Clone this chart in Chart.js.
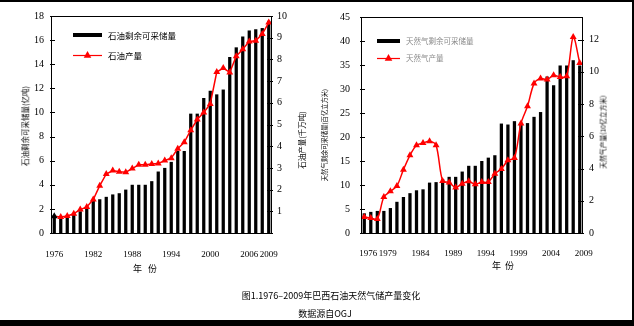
<!DOCTYPE html>
<html><head><meta charset="utf-8">
<script src="https://cdn.jsdelivr.net/npm/chart.js@4.4.0/dist/chart.umd.min.js"></script>
<style>
html,body{margin:0;padding:0;background:#000;}
#page{position:relative;width:634px;height:326px;background:#000;overflow:hidden;}
#inner{position:absolute;left:0;top:2px;width:632px;height:318px;background:#fff;}
canvas{position:absolute;}
.t{position:absolute;font-family:"Noto Sans CJK SC";color:#000;white-space:nowrap;line-height:1;}
.rot{transform:translate(-50%,-50%) rotate(-90deg);}
.c{transform:translate(-50%,-50%);}
</style></head>
<body><div id="page"><div id="inner"></div>
<canvas id="c1" width="316" height="262" style="left:0;top:0"></canvas>
<canvas id="c2" width="316" height="262" style="left:316px;top:0"></canvas>
<div class="t rot" style="left:25px;top:126px;font-size:7.5px;">石油剩余可采储量(亿吨)</div>
<div class="t rot" style="left:302px;top:140px;font-size:7.5px;">石油产量(千万吨)</div>
<div class="t rot" style="left:325px;top:135px;font-size:6.3px;">天然气剩余可采储量(百亿立方米)</div>
<div class="t rot" style="left:603px;top:132px;font-size:6.8px;">天然气产量(10亿立方米)</div>
<div class="t c" style="left:145px;top:268px;font-size:9px;">年&nbsp;&nbsp;&nbsp;份</div>
<div class="t c" style="left:503px;top:265px;font-size:9px;">年&nbsp;&nbsp;份</div>
<div class="t c" style="left:331px;top:295px;font-size:9px;">图1.1976–2009年巴西石油天然气储产量变化</div>
<div class="t c" style="left:325px;top:313px;font-size:9px;">数据源自OGJ</div>
</div>
<script>
const years = ['1976','1977','1978','1979','1980','1981','1982','1983','1984','1985','1986','1987','1988','1989','1990','1991','1992','1993','1994','1995','1996','1997','1998','1999','2000','2001','2002','2003','2004','2005','2006','2007','2008','2009'];
const oilReserves = [1.5,1.2,1.3,1.6,1.8,2.2,2.7,2.8,3.0,3.2,3.3,3.6,4.0,4.0,4.0,4.3,5.1,5.4,5.9,6.8,6.8,9.9,9.9,11.2,11.8,11.5,11.9,14.6,15.4,16.3,16.8,16.9,17.0,17.6];
const oilProduction = [0.77,0.74,0.78,0.89,1.08,1.2,1.54,2.18,2.72,2.88,2.82,2.8,2.97,3.15,3.15,3.18,3.2,3.34,3.45,3.88,4.18,4.74,5.23,5.55,5.95,7.42,7.6,7.4,8.15,8.47,8.83,8.86,9.17,9.7];
const gasReserves = [4.1,4.4,4.6,4.6,5.2,6.5,7.5,8.3,8.9,9.1,10.5,10.6,11.2,11.7,11.7,12.8,14.0,14.0,15.0,15.7,16.2,22.8,22.6,23.3,22.8,22.9,24.2,25.2,32.6,30.8,34.9,34.9,36.0,34.9];
const gasProduction = [0.99,0.93,0.87,2.23,2.59,2.92,3.93,4.82,5.44,5.58,5.69,5.44,3.23,3.13,2.82,3.06,3.21,3.02,3.16,3.16,3.68,3.97,4.51,4.65,6.8,7.86,9.27,9.58,9.52,9.78,9.68,9.72,12.16,10.55];
const oilTickYears = ['1976','1982','1988','1994','2000','2006','2009'];
const gasTickYears = ['1976','1979','1984','1989','1994','1999','2004','2009'];
const oilLegend = ['石油剩余可采储量','石油产量'];
const gasLegend = ['天然气剩余可采储量','天然气产量'];

const RED = '#ff0000';
const TICKFONT = {family:'Liberation Serif', size:9};
const YFONT = {family:'Liberation Serif', size:10};

const framePlugin = {
  id:'frame',
  afterDatasetsDraw(chart){
    const a = chart.chartArea, ctx = chart.ctx;
    ctx.save();
    ctx.strokeStyle = '#000'; ctx.lineWidth = 1;
    ctx.strokeRect(Math.round(a.left)+0.5, Math.round(a.top)+0.5, Math.round(a.right-a.left)-1, Math.round(a.bottom-a.top));
    const y = chart.scales.y, y1 = chart.scales.y1;
    ctx.beginPath();
    y.ticks.forEach(t => { const p = Math.round(y.getPixelForValue(t.value))+0.5; ctx.moveTo(a.left-1,p); ctx.lineTo(a.left+4,p); });
    y1.ticks.forEach(t => { const p = Math.round(y1.getPixelForValue(t.value))+0.5; ctx.moveTo(a.right-5,p); ctx.lineTo(a.right+1,p); });
    ctx.stroke();
    ctx.restore();
  }
};

const legendPlugin = {
  id:'customLegend',
  afterDraw(chart, args, o){
    const ctx = chart.ctx;
    ctx.save();
    ctx.font = o.fontSize + 'px "Noto Sans CJK SC"';
    ctx.textBaseline = 'middle';
    o.items.forEach((it, i) => {
      const y = o.y[i];
      if (i === 0) {
        ctx.fillStyle = '#000';
        ctx.fillRect(o.x, y-2, o.w, 4);
      } else {
        ctx.strokeStyle = RED; ctx.lineWidth = 1.2;
        ctx.beginPath(); ctx.moveTo(o.x, y+0.5); ctx.lineTo(o.x+o.w, y+0.5); ctx.stroke();
        const cx = o.x + o.w/2, r = 4;
        ctx.fillStyle = RED;
        ctx.beginPath();
        ctx.moveTo(cx, y - r*1.0);
        ctx.lineTo(cx + r*0.95, y + r*0.7);
        ctx.lineTo(cx - r*0.95, y + r*0.7);
        ctx.closePath(); ctx.fill();
      }
      ctx.fillStyle = o.color;
      ctx.fillText(it, o.x + o.w + 6, y+0.5);
    });
    ctx.restore();
  }
};

function makeChart(id, cfg){
  const tickYears = cfg.tickYears;
  return new Chart(document.getElementById(id), {
    type:'bar',
    data:{
      labels: years,
      datasets:[
        {type:'line', data: cfg.line, yAxisID:'y1', order:0,
         borderColor:RED, borderWidth:1.5, tension: cfg.tension,
         pointStyle:'triangle', pointRadius:4, pointBorderWidth:0,
         pointBackgroundColor: cfg.pointColors, pointBorderColor: cfg.pointColors},
        {type:'bar', data: cfg.bars, yAxisID:'y', order:1,
         backgroundColor:'#000', barPercentage:0.5, categoryPercentage:1}
      ]
    },
    options:{
      responsive:false, animation:false, events:[],
      layout:{padding:{top:cfg.top, left:0, right:0, bottom:0}},
      plugins:{legend:{display:false}, tooltip:{enabled:false},
        customLegend: cfg.legend},
      scales:{
        x:{grid:{display:false}, border:{display:false},
           ticks:{autoSkip:false, maxRotation:0, minRotation:0, padding:cfg.xPad, labelOffset:cfg.xOff, color:'#000', font:TICKFONT,
             callback:function(v){ const l = this.getLabelForValue(v); return tickYears.includes(l) ? l : ''; }},
           afterFit:s=>{ s.height = cfg.xh; }},
        y:{position:'left', min:0, max:cfg.yMax, grid:{display:false, drawTicks:false}, border:{display:false},
           ticks:{stepSize:cfg.yStep, padding:cfg.yPad, color:'#000', font:YFONT},
           afterFit:s=>{ s.width = cfg.lw; }},
        y1:{position:'right', min:0, max:cfg.y1Max, grid:{display:false, drawTicks:false}, border:{display:false},
           ticks:{padding:cfg.y1Pad, color:'#000', font:YFONT,
             callback:cfg.y1cb},
           afterBuildTicks: s => { s.ticks = cfg.y1Ticks.map(v => ({value:v})); },
           afterFit:s=>{ s.width = cfg.rw; }}
      }
    },
    plugins:[framePlugin, legendPlugin]
  });
}

const oilPointColors = oilProduction.map((v,i) => i === 0 ? '#000' : RED);
const gasPointColors = gasProduction.map(() => RED);

makeChart('c1', {
  bars: oilReserves, line: oilProduction, tickYears: oilTickYears, tension:0,
  pointColors: oilPointColors,
  top:16, lw:51, rw:44, xh:29, xPad:8, xOff:0, yPad:7, y1Pad:5,
  yMax:18, yStep:2, y1Max:10, y1Ticks:[0,1,2,3,4,5,6,7,8,9,10],
  y1cb: v => v === 0 ? '' : String(v),
  legend:{items:oilLegend, x:73, y:[35,55], w:29, fontSize:8.5, color:'#000'}
});
makeChart('c2', {
  bars: gasReserves, line: gasProduction, tickYears: gasTickYears, tension:0.3,
  pointColors: gasPointColors,
  top:17, lw:45, rw:49, xh:29, xPad:7, xOff:4, yPad:11, y1Pad:6,
  yMax:45, yStep:5, y1Max:13.4, y1Ticks:[0,2,4,6,8,10,12],
  y1cb: v => String(v),
  legend:{items:gasLegend, x:61, y:[41,58], w:23, fontSize:7.5, color:'#8a8a8a'}
});
</script>
</body></html>
